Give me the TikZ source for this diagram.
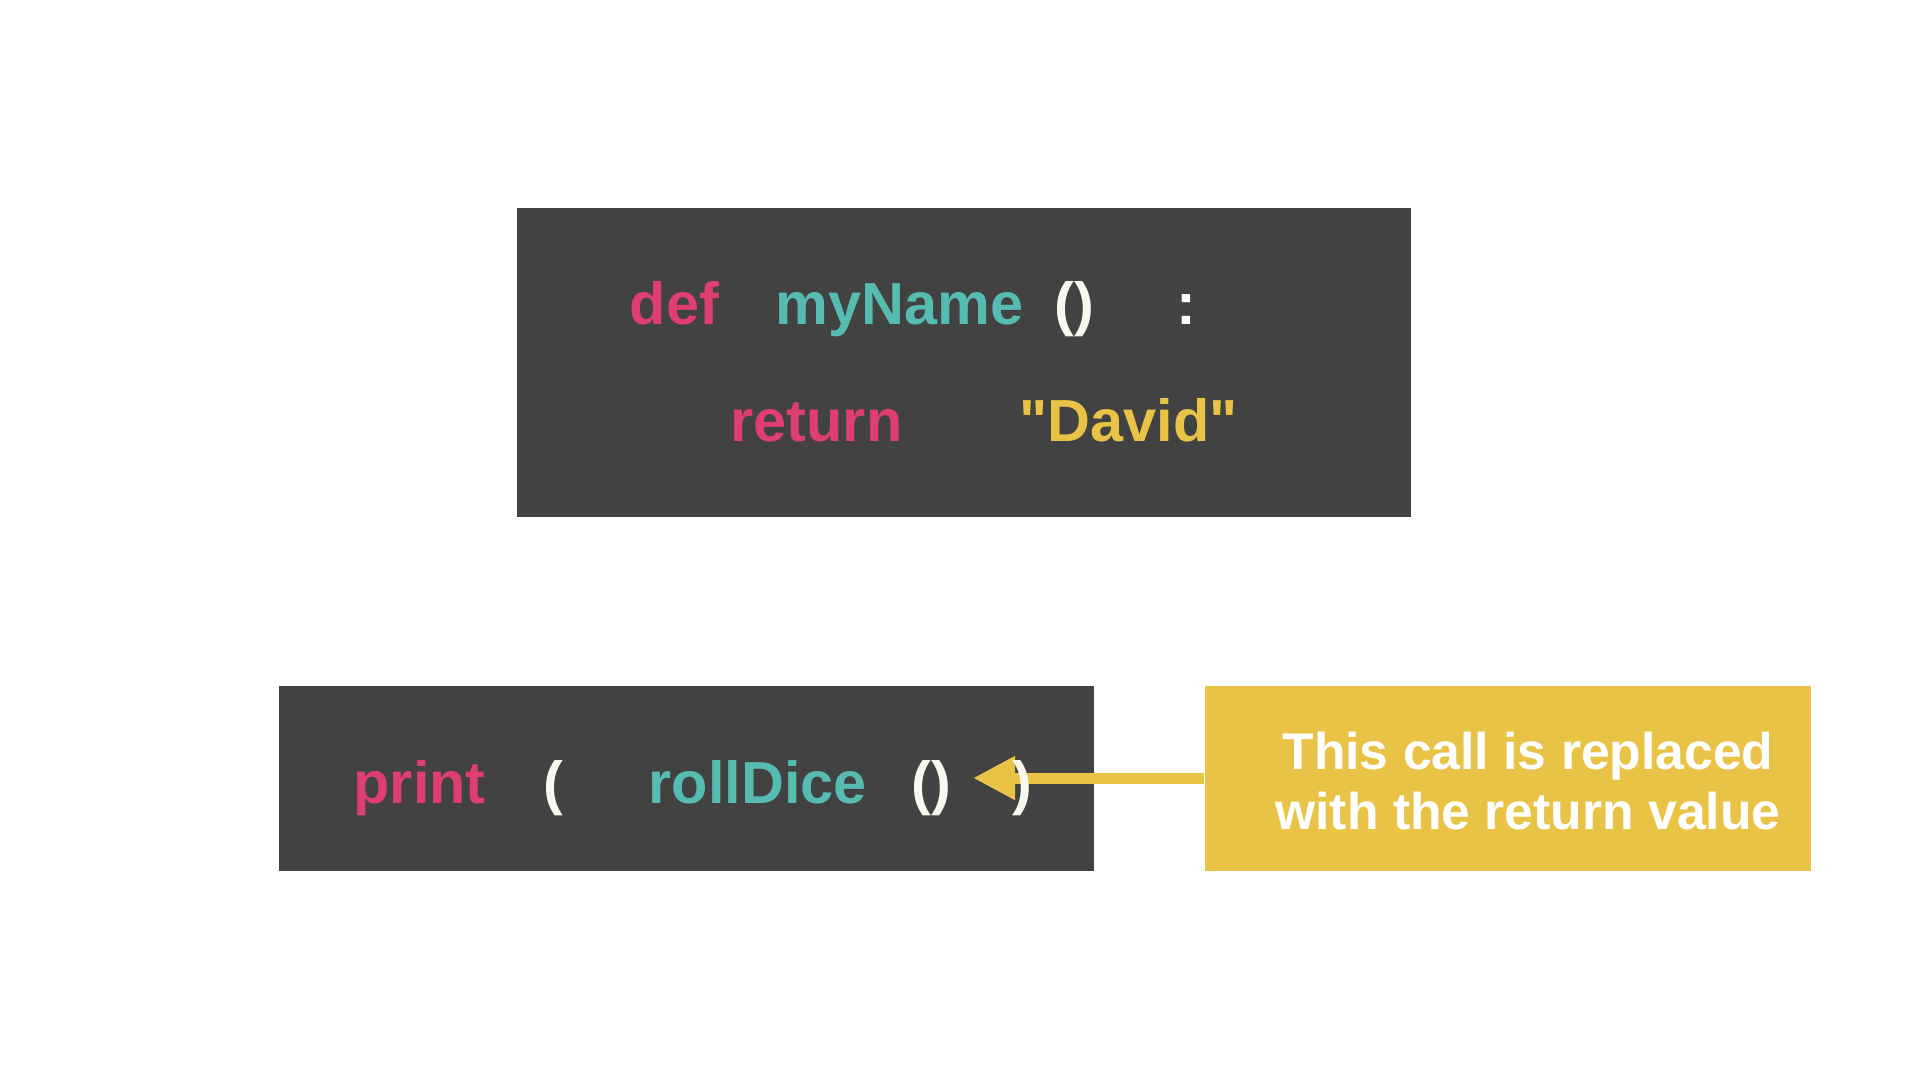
\documentclass[tikz,border=0pt]{standalone}
\usepackage{fontspec}
\newfontfamily\codefont{Liberation Sans}
\usetikzlibrary{arrows.meta}
\definecolor{codegray}{RGB}{66,66,66}
\definecolor{keypink}{RGB}{222,62,112}
\definecolor{nameteal}{RGB}{86,188,178}
\definecolor{stryellow}{RGB}{233,195,69}
\definecolor{parenwhite}{RGB}{248,248,240}

\tikzset{
  codebox/.style={fill=codegray,draw=none,inner sep=0pt,minimum height=18.5mm},
  notebox/.style={fill=stryellow,draw=none,inner sep=0pt,minimum height=18.5mm},
  tok/.style={inner sep=0pt,anchor=base west,font=\codefont\fontsize{16.9}{20}\selectfont\bfseries},
  keyword/.style={tok,text=keypink},
  funcname/.style={tok,text=nameteal},
  strval/.style={tok,text=stryellow},
  paren/.style={tok,text=parenwhite},
  notetext/.style={inner sep=0pt,anchor=base,text=white,font=\codefont\fontsize{14.7}{18}\selectfont\bfseries},
  callarrow/.style={stryellow,line width=1.1mm,-{Triangle[length=4.2mm,width=4.1mm]}}
}

\begin{document}
\begin{tikzpicture}[x=0.1mm,y=-0.1mm]

\useasboundingbox[fill=white] (0,0) rectangle (1920,1080);

% boxes
\node[codebox,minimum width=89.4mm,minimum height=30.9mm] (defbox) at (964,362.5) {};
\node[codebox,minimum width=81.5mm] (callbox) at (686,778.5) {};
\node[notebox,minimum width=60.6mm] (note) at (1508,778.5) {};

% arrow into the call
\coordinate (tip) at (973,778);
\draw[callarrow] (note.west |- tip) -- (tip);

% function definition
\node[keyword] (def) at (629,324) {def};
\node[funcname] (fname) at (775,324) {myName};
\node[paren] (fparen) at (1054,324) {()};
\node[paren,text=white] (colon) at (1176,324) {:};
\node[keyword] (ret) at (730,441) {return};
\node[strval] (david) at (1019,441) {"David"};

% call line
\node[keyword] (print) at (353,803) {print};
\node[paren] (popen) at (543,803) {(};
\node[funcname] (roll) at (648,803) {rollDice};
\node[paren] (rparen) at (911,803) {()};
\node[paren] (pclose) at (1012,803) {)};

% note text
\node[notetext] (notea) at (1528,769) {This call is replaced};
\node[notetext] (noteb) at (1528,829) {with the return value};

\end{tikzpicture}
\end{document}
